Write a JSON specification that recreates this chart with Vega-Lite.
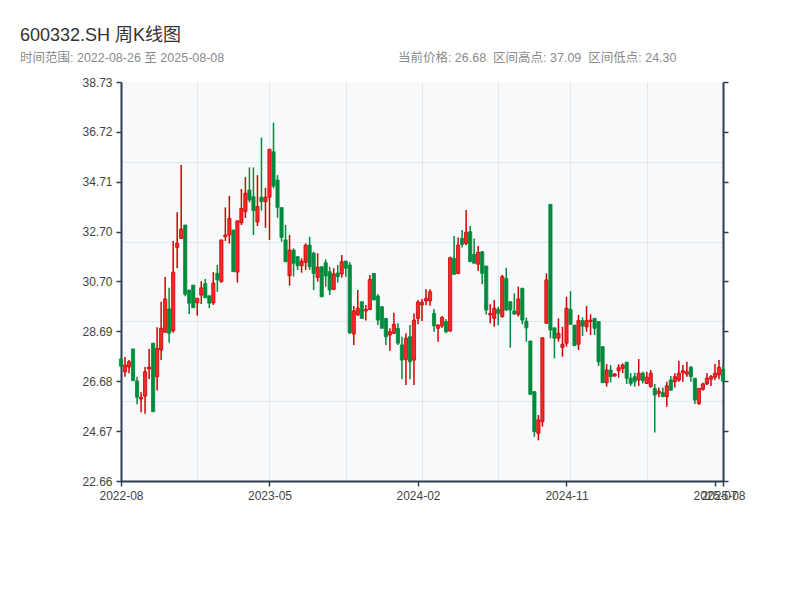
{
  "$schema": "https://vega.github.io/schema/vega-lite/v6.json",
  "width": 602,
  "height": 399,
  "autosize": {"type": "none"},
  "padding": {"left": 121, "top": 82, "right": 77, "bottom": 119},
  "background": "white",
  "config": {
    "font": "Liberation Sans, Noto Sans CJK SC, sans-serif",
    "view": {"fill": "#f7f9fb", "stroke": null}
  },
  "title": {
    "text": "600332.SH 周K线图",
    "subtitle": "时间范围: 2022-08-26 至 2025-08-08\u00a0\u00a0\u00a0\u00a0\u00a0\u00a0\u00a0\u00a0\u00a0\u00a0\u00a0\u00a0\u00a0\u00a0\u00a0\u00a0\u00a0\u00a0\u00a0\u00a0\u00a0\u00a0\u00a0\u00a0\u00a0\u00a0\u00a0\u00a0\u00a0\u00a0\u00a0\u00a0\u00a0\u00a0\u00a0\u00a0\u00a0\u00a0\u00a0\u00a0\u00a0\u00a0\u00a0\u00a0\u00a0\u00a0\u00a0\u00a0\u00a0\u00a0当前价格: 26.68\u00a0\u00a0区间高点: 37.09\u00a0\u00a0区间低点: 24.30",
    "anchor": "start",
    "frame": "group",
    "dx": -101,
    "fontSize": 18,
    "fontWeight": "normal",
    "color": "#333333",
    "subtitleFontSize": 12.5,
    "subtitleColor": "#8a8a8a",
    "subtitlePadding": 7,
    "offset": 12
  },
  "data": {"values": [
    {"date": "2022-08-26", "open": 27.57, "high": 27.60, "low": 27.25, "close": 27.28},
    {"date": "2022-09-02", "open": 27.06, "high": 27.65, "low": 26.86, "close": 27.33},
    {"date": "2022-09-09", "open": 27.25, "high": 27.53, "low": 27.00, "close": 27.46},
    {"date": "2022-09-16", "open": 27.98, "high": 27.98, "low": 26.70, "close": 26.70},
    {"date": "2022-09-23", "open": 26.69, "high": 26.86, "low": 25.75, "close": 26.03},
    {"date": "2022-09-30", "open": 25.96, "high": 26.23, "low": 25.43, "close": 26.03},
    {"date": "2022-10-14", "open": 26.08, "high": 27.25, "low": 25.37, "close": 27.06},
    {"date": "2022-10-21", "open": 27.17, "high": 27.98, "low": 26.77, "close": 27.25},
    {"date": "2022-10-28", "open": 28.21, "high": 28.21, "low": 25.45, "close": 25.45},
    {"date": "2022-11-04", "open": 26.86, "high": 28.85, "low": 26.30, "close": 28.00},
    {"date": "2022-11-11", "open": 27.94, "high": 29.88, "low": 27.53, "close": 28.81},
    {"date": "2022-11-18", "open": 28.65, "high": 30.88, "low": 28.65, "close": 29.99},
    {"date": "2022-11-25", "open": 29.59, "high": 30.44, "low": 28.23, "close": 28.61},
    {"date": "2022-12-02", "open": 28.71, "high": 32.33, "low": 28.63, "close": 31.07},
    {"date": "2022-12-09", "open": 32.07, "high": 33.48, "low": 31.23, "close": 32.23},
    {"date": "2022-12-16", "open": 32.43, "high": 35.39, "low": 32.43, "close": 32.81},
    {"date": "2022-12-23", "open": 32.97, "high": 32.97, "low": 30.10, "close": 30.18},
    {"date": "2022-12-30", "open": 30.35, "high": 30.35, "low": 29.39, "close": 29.82},
    {"date": "2023-01-06", "open": 30.55, "high": 30.55, "low": 29.64, "close": 29.64},
    {"date": "2023-01-13", "open": 29.84, "high": 30.02, "low": 29.32, "close": 30.02},
    {"date": "2023-01-20", "open": 30.15, "high": 30.71, "low": 29.79, "close": 30.44},
    {"date": "2023-02-03", "open": 30.61, "high": 30.80, "low": 30.04, "close": 30.04},
    {"date": "2023-02-10", "open": 30.12, "high": 30.12, "low": 29.62, "close": 29.82},
    {"date": "2023-02-17", "open": 29.84, "high": 31.07, "low": 29.75, "close": 30.63},
    {"date": "2023-02-24", "open": 31.02, "high": 31.36, "low": 30.28, "close": 30.76},
    {"date": "2023-03-03", "open": 30.69, "high": 32.37, "low": 30.65, "close": 32.37},
    {"date": "2023-03-10", "open": 32.50, "high": 33.68, "low": 32.33, "close": 32.57},
    {"date": "2023-03-17", "open": 32.57, "high": 34.14, "low": 32.22, "close": 33.24},
    {"date": "2023-03-24", "open": 32.77, "high": 32.77, "low": 31.09, "close": 31.09},
    {"date": "2023-03-31", "open": 31.07, "high": 33.14, "low": 30.65, "close": 33.14},
    {"date": "2023-04-07", "open": 33.06, "high": 34.42, "low": 32.97, "close": 33.64},
    {"date": "2023-04-14", "open": 33.51, "high": 34.90, "low": 33.26, "close": 34.25},
    {"date": "2023-04-21", "open": 34.38, "high": 35.29, "low": 33.88, "close": 33.98},
    {"date": "2023-04-28", "open": 34.11, "high": 35.29, "low": 32.57, "close": 33.55},
    {"date": "2023-05-05", "open": 33.10, "high": 34.98, "low": 32.93, "close": 33.71},
    {"date": "2023-05-12", "open": 34.09, "high": 36.49, "low": 33.55, "close": 33.91},
    {"date": "2023-05-19", "open": 33.91, "high": 34.47, "low": 32.86, "close": 34.09},
    {"date": "2023-05-26", "open": 34.09, "high": 36.02, "low": 32.37, "close": 36.02},
    {"date": "2023-06-02", "open": 35.92, "high": 37.09, "low": 34.45, "close": 34.54},
    {"date": "2023-06-09", "open": 34.78, "high": 34.98, "low": 33.26, "close": 33.68},
    {"date": "2023-06-16", "open": 33.67, "high": 33.67, "low": 32.30, "close": 32.47},
    {"date": "2023-06-21", "open": 32.37, "high": 32.97, "low": 31.49, "close": 31.49},
    {"date": "2023-06-30", "open": 30.93, "high": 32.57, "low": 30.53, "close": 31.96},
    {"date": "2023-07-07", "open": 31.96, "high": 32.03, "low": 30.89, "close": 31.43},
    {"date": "2023-07-14", "open": 31.69, "high": 31.72, "low": 31.16, "close": 31.33},
    {"date": "2023-07-21", "open": 31.33, "high": 31.63, "low": 31.05, "close": 31.51},
    {"date": "2023-07-28", "open": 31.47, "high": 32.23, "low": 31.16, "close": 32.16},
    {"date": "2023-08-04", "open": 32.16, "high": 32.50, "low": 31.16, "close": 31.29},
    {"date": "2023-08-11", "open": 31.83, "high": 31.89, "low": 30.35, "close": 31.02},
    {"date": "2023-08-18", "open": 30.86, "high": 31.83, "low": 30.69, "close": 31.27},
    {"date": "2023-08-25", "open": 31.29, "high": 31.29, "low": 30.08, "close": 30.08},
    {"date": "2023-09-01", "open": 31.45, "high": 31.59, "low": 30.49, "close": 30.92},
    {"date": "2023-09-08", "open": 31.09, "high": 31.29, "low": 30.15, "close": 30.35},
    {"date": "2023-09-15", "open": 30.38, "high": 31.23, "low": 30.35, "close": 31.00},
    {"date": "2023-09-22", "open": 31.04, "high": 31.36, "low": 30.65, "close": 30.89},
    {"date": "2023-09-28", "open": 31.00, "high": 31.76, "low": 30.85, "close": 31.49},
    {"date": "2023-10-13", "open": 31.52, "high": 31.52, "low": 30.89, "close": 31.23},
    {"date": "2023-10-20", "open": 31.36, "high": 31.47, "low": 28.58, "close": 28.63},
    {"date": "2023-10-27", "open": 28.58, "high": 29.71, "low": 28.14, "close": 29.51},
    {"date": "2023-11-03", "open": 29.35, "high": 30.35, "low": 29.32, "close": 29.62},
    {"date": "2023-11-10", "open": 29.88, "high": 29.88, "low": 29.21, "close": 29.21},
    {"date": "2023-11-17", "open": 29.51, "high": 29.75, "low": 29.12, "close": 29.57},
    {"date": "2023-11-24", "open": 29.57, "high": 30.96, "low": 29.55, "close": 30.78},
    {"date": "2023-12-01", "open": 31.02, "high": 31.02, "low": 29.95, "close": 29.95},
    {"date": "2023-12-08", "open": 30.11, "high": 30.19, "low": 28.94, "close": 29.14},
    {"date": "2023-12-15", "open": 29.68, "high": 29.68, "low": 28.81, "close": 28.81},
    {"date": "2023-12-22", "open": 29.21, "high": 29.21, "low": 28.14, "close": 28.47},
    {"date": "2023-12-29", "open": 28.54, "high": 28.81, "low": 27.91, "close": 28.67},
    {"date": "2024-01-05", "open": 28.61, "high": 29.44, "low": 28.58, "close": 28.97},
    {"date": "2024-01-12", "open": 28.81, "high": 29.01, "low": 28.14, "close": 28.21},
    {"date": "2024-01-19", "open": 28.14, "high": 28.47, "low": 26.76, "close": 27.53},
    {"date": "2024-01-26", "open": 27.56, "high": 28.61, "low": 26.53, "close": 28.41},
    {"date": "2024-02-02", "open": 28.47, "high": 28.94, "low": 26.76, "close": 27.46},
    {"date": "2024-02-08", "open": 27.53, "high": 29.41, "low": 26.53, "close": 29.14},
    {"date": "2024-02-23", "open": 29.21, "high": 29.95, "low": 28.97, "close": 29.86},
    {"date": "2024-03-01", "open": 29.75, "high": 29.99, "low": 29.10, "close": 29.86},
    {"date": "2024-03-08", "open": 29.91, "high": 30.38, "low": 29.75, "close": 30.02},
    {"date": "2024-03-15", "open": 29.91, "high": 30.38, "low": 29.72, "close": 30.28},
    {"date": "2024-03-22", "open": 29.41, "high": 29.59, "low": 28.67, "close": 28.91},
    {"date": "2024-03-29", "open": 28.81, "high": 28.97, "low": 28.27, "close": 28.94},
    {"date": "2024-04-03", "open": 28.91, "high": 29.31, "low": 28.83, "close": 29.24},
    {"date": "2024-04-12", "open": 29.08, "high": 29.17, "low": 28.61, "close": 28.67},
    {"date": "2024-04-19", "open": 28.70, "high": 31.69, "low": 28.67, "close": 31.65},
    {"date": "2024-04-26", "open": 31.63, "high": 32.53, "low": 30.98, "close": 30.98},
    {"date": "2024-04-30", "open": 31.02, "high": 32.47, "low": 30.99, "close": 32.16},
    {"date": "2024-05-10", "open": 32.43, "high": 32.77, "low": 32.06, "close": 32.19},
    {"date": "2024-05-17", "open": 32.23, "high": 33.57, "low": 32.16, "close": 32.68},
    {"date": "2024-05-24", "open": 32.70, "high": 32.93, "low": 31.49, "close": 31.49},
    {"date": "2024-05-31", "open": 31.79, "high": 32.43, "low": 31.43, "close": 31.43},
    {"date": "2024-06-07", "open": 31.39, "high": 32.12, "low": 31.12, "close": 31.87},
    {"date": "2024-06-14", "open": 31.89, "high": 31.92, "low": 30.58, "close": 31.02},
    {"date": "2024-06-21", "open": 31.32, "high": 31.32, "low": 29.37, "close": 29.55},
    {"date": "2024-06-28", "open": 29.35, "high": 29.78, "low": 29.01, "close": 29.41},
    {"date": "2024-07-05", "open": 29.21, "high": 29.95, "low": 28.87, "close": 29.62},
    {"date": "2024-07-12", "open": 29.57, "high": 29.68, "low": 28.94, "close": 29.41},
    {"date": "2024-07-19", "open": 29.28, "high": 30.96, "low": 29.24, "close": 30.89},
    {"date": "2024-07-26", "open": 30.82, "high": 31.25, "low": 29.51, "close": 29.55},
    {"date": "2024-08-02", "open": 29.88, "high": 29.91, "low": 28.03, "close": 29.55},
    {"date": "2024-08-09", "open": 29.51, "high": 30.22, "low": 29.35, "close": 29.39},
    {"date": "2024-08-16", "open": 29.37, "high": 30.49, "low": 29.28, "close": 29.99},
    {"date": "2024-08-23", "open": 30.42, "high": 30.44, "low": 28.97, "close": 29.14},
    {"date": "2024-08-30", "open": 29.10, "high": 29.24, "low": 28.27, "close": 28.83},
    {"date": "2024-09-06", "open": 28.30, "high": 28.30, "low": 26.12, "close": 26.15},
    {"date": "2024-09-13", "open": 26.26, "high": 26.26, "low": 24.44, "close": 24.65},
    {"date": "2024-09-20", "open": 24.58, "high": 25.32, "low": 24.30, "close": 25.12},
    {"date": "2024-09-27", "open": 25.05, "high": 28.43, "low": 24.85, "close": 28.43},
    {"date": "2024-09-30", "open": 29.01, "high": 31.02, "low": 29.01, "close": 30.76},
    {"date": "2024-10-11", "open": 33.80, "high": 33.80, "low": 28.41, "close": 28.74},
    {"date": "2024-10-18", "open": 28.83, "high": 28.83, "low": 27.60, "close": 28.41},
    {"date": "2024-10-25", "open": 28.41, "high": 29.21, "low": 28.27, "close": 28.61},
    {"date": "2024-11-01", "open": 28.04, "high": 28.87, "low": 27.67, "close": 28.17},
    {"date": "2024-11-08", "open": 28.21, "high": 30.08, "low": 28.07, "close": 29.62},
    {"date": "2024-11-15", "open": 29.57, "high": 30.31, "low": 28.97, "close": 28.97},
    {"date": "2024-11-22", "open": 28.94, "high": 28.94, "low": 28.11, "close": 28.11},
    {"date": "2024-11-29", "open": 28.17, "high": 29.35, "low": 27.94, "close": 29.12},
    {"date": "2024-12-06", "open": 29.12, "high": 29.25, "low": 28.50, "close": 28.90},
    {"date": "2024-12-13", "open": 28.87, "high": 29.71, "low": 28.67, "close": 29.12},
    {"date": "2024-12-20", "open": 29.08, "high": 29.37, "low": 28.54, "close": 29.14},
    {"date": "2024-12-27", "open": 29.21, "high": 29.21, "low": 28.54, "close": 28.81},
    {"date": "2025-01-03", "open": 29.08, "high": 29.10, "low": 27.29, "close": 27.46},
    {"date": "2025-01-10", "open": 28.07, "high": 28.07, "low": 26.62, "close": 26.62},
    {"date": "2025-01-17", "open": 26.62, "high": 27.37, "low": 26.46, "close": 27.13},
    {"date": "2025-01-24", "open": 27.13, "high": 27.33, "low": 26.63, "close": 26.86},
    {"date": "2025-01-27", "open": 26.89, "high": 27.00, "low": 26.86, "close": 26.97},
    {"date": "2025-02-07", "open": 27.10, "high": 27.36, "low": 26.82, "close": 27.22},
    {"date": "2025-02-14", "open": 27.20, "high": 27.40, "low": 27.00, "close": 27.33},
    {"date": "2025-02-21", "open": 27.44, "high": 27.46, "low": 26.57, "close": 26.80},
    {"date": "2025-02-28", "open": 26.80, "high": 27.00, "low": 26.49, "close": 26.59},
    {"date": "2025-03-07", "open": 26.86, "high": 27.02, "low": 26.46, "close": 26.66},
    {"date": "2025-03-14", "open": 26.73, "high": 27.57, "low": 26.49, "close": 27.00},
    {"date": "2025-03-21", "open": 27.00, "high": 27.06, "low": 26.59, "close": 26.70},
    {"date": "2025-03-28", "open": 26.59, "high": 27.06, "low": 26.57, "close": 26.84},
    {"date": "2025-04-03", "open": 26.46, "high": 27.13, "low": 26.43, "close": 27.00},
    {"date": "2025-04-11", "open": 26.39, "high": 26.57, "low": 24.61, "close": 26.12},
    {"date": "2025-04-18", "open": 26.19, "high": 26.43, "low": 26.03, "close": 26.28},
    {"date": "2025-04-25", "open": 26.22, "high": 26.43, "low": 26.03, "close": 26.06},
    {"date": "2025-04-30", "open": 26.06, "high": 26.66, "low": 25.65, "close": 26.49},
    {"date": "2025-05-09", "open": 26.73, "high": 26.89, "low": 26.30, "close": 26.32},
    {"date": "2025-05-16", "open": 26.66, "high": 27.00, "low": 26.43, "close": 26.86},
    {"date": "2025-05-23", "open": 26.73, "high": 27.50, "low": 26.66, "close": 27.00},
    {"date": "2025-05-30", "open": 27.02, "high": 27.33, "low": 26.66, "close": 27.10},
    {"date": "2025-06-06", "open": 26.96, "high": 27.46, "low": 26.86, "close": 27.06},
    {"date": "2025-06-13", "open": 27.24, "high": 27.29, "low": 26.66, "close": 26.86},
    {"date": "2025-06-20", "open": 26.80, "high": 26.80, "low": 25.76, "close": 25.92},
    {"date": "2025-06-27", "open": 25.79, "high": 26.39, "low": 25.72, "close": 26.39},
    {"date": "2025-07-04", "open": 26.35, "high": 26.62, "low": 26.30, "close": 26.57},
    {"date": "2025-07-11", "open": 26.57, "high": 27.00, "low": 26.53, "close": 26.80},
    {"date": "2025-07-18", "open": 26.76, "high": 26.93, "low": 26.49, "close": 26.86},
    {"date": "2025-07-25", "open": 26.84, "high": 27.37, "low": 26.73, "close": 27.00},
    {"date": "2025-08-01", "open": 26.93, "high": 27.53, "low": 26.76, "close": 27.24},
    {"date": "2025-08-08", "open": 27.16, "high": 27.33, "low": 26.68, "close": 26.68}
  ]},
  "encoding": {
    "x": {
      "field": "date",
      "type": "ordinal",
      "scale": {"type": "point", "padding": 0},
      "axis": {
        "title": null,
        "values": ["2022-08-26", "2023-05-26", "2024-02-23", "2024-11-08", "2025-07-25", "2025-08-08", "2023-01-13", "2023-10-13", "2024-03-01", "2024-07-12", "2024-11-15", "2025-03-28"],
        "labelExpr": "indexof(['2022-08-26','2023-05-26','2024-02-23','2024-11-08','2025-07-25','2025-08-08'], datum.value) >= 0 ? substring(datum.value, 0, 7) : ''",
        "labelAngle": 0,
        "labelOverlap": false,
        "labelBound": false,
        "labelFontSize": 12,
        "labelColor": "#444444",
        "labelPadding": 4,
        "grid": true,
        "gridColor": "#e3e6ea",
        "gridWidth": 1,
        "gridOpacity": {"condition": {"test": "indexof(['2023-01-13','2023-05-26','2023-10-13','2024-03-01','2024-07-12','2024-11-15','2025-03-28'], datum.value) >= 0", "value": 1}, "value": 0},
        "tickOpacity": {"condition": {"test": "indexof(['2022-08-26','2023-05-26','2024-02-23','2024-11-08','2025-07-25','2025-08-08'], datum.value) >= 0", "value": 1}, "value": 0},
        "tickSize": 5,
        "tickWidth": 1.5,
        "tickColor": "#2c3e50",
        "domainColor": "#2c3e50",
        "domainWidth": 2
      }
    }
  },
  "layer": [
    {
      "mark": {"type": "rule", "strokeWidth": 1.5},
      "encoding": {
        "y": {
          "field": "low",
          "type": "quantitative",
          "scale": {"domain": [22.66, 38.73], "nice": false, "zero": false},
          "axis": {
            "title": null,
            "orient": "left",
            "values": [22.66, 24.67, 26.68, 28.69, 30.70, 32.70, 34.71, 36.72, 38.73, 25.874, 29.088, 32.302, 35.516],
            "labelExpr": "indexof([25.874, 29.088, 32.302, 35.516], datum.value) >= 0 ? '' : format(datum.value, '.2f')",
            "labelOverlap": false,
            "labelFontSize": 12,
            "labelColor": "#444444",
            "labelPadding": 4,
            "grid": true,
            "gridColor": "#e3e6ea",
            "gridWidth": 1,
            "gridOpacity": {"condition": {"test": "indexof([25.874, 29.088, 32.302, 35.516], datum.value) >= 0", "value": 1}, "value": 0},
            "tickOpacity": {"condition": {"test": "indexof([25.874, 29.088, 32.302, 35.516], datum.value) >= 0", "value": 0}, "value": 1},
            "tickSize": 5,
            "tickWidth": 1.5,
            "tickColor": "#2c3e50",
            "domainColor": "#2c3e50",
            "domainWidth": 2
          }
        },
        "y2": {"field": "high"},
        "color": {"condition": {"test": "datum.close >= datum.open", "value": "#d10000"}, "value": "#008a3c"}
      }
    },
    {
      "mark": {"type": "bar", "width": 3.2, "strokeWidth": 0.8},
      "encoding": {
        "y": {
          "field": "open",
          "type": "quantitative",
          "scale": {"domain": [22.66, 38.73], "nice": false, "zero": false},
          "axis": {
            "title": null,
            "orient": "right",
            "values": [22.66, 24.67, 26.68, 28.69, 30.70, 32.70, 34.71, 36.72, 38.73],
            "labels": false,
            "grid": false,
            "tickSize": 5,
            "tickWidth": 1.5,
            "tickColor": "#2c3e50",
            "domainColor": "#2c3e50",
            "domainWidth": 2
          }
        },
        "y2": {"field": "close"},
        "fill": {"condition": {"test": "datum.close >= datum.open", "value": "#f22a2a"}, "value": "#008a3c"},
        "stroke": {"condition": {"test": "datum.close >= datum.open", "value": "#cc0000"}, "value": "#008a3c"}
      }
    }
  ],
  "resolve": {"axis": {"y": "independent"}}
}
